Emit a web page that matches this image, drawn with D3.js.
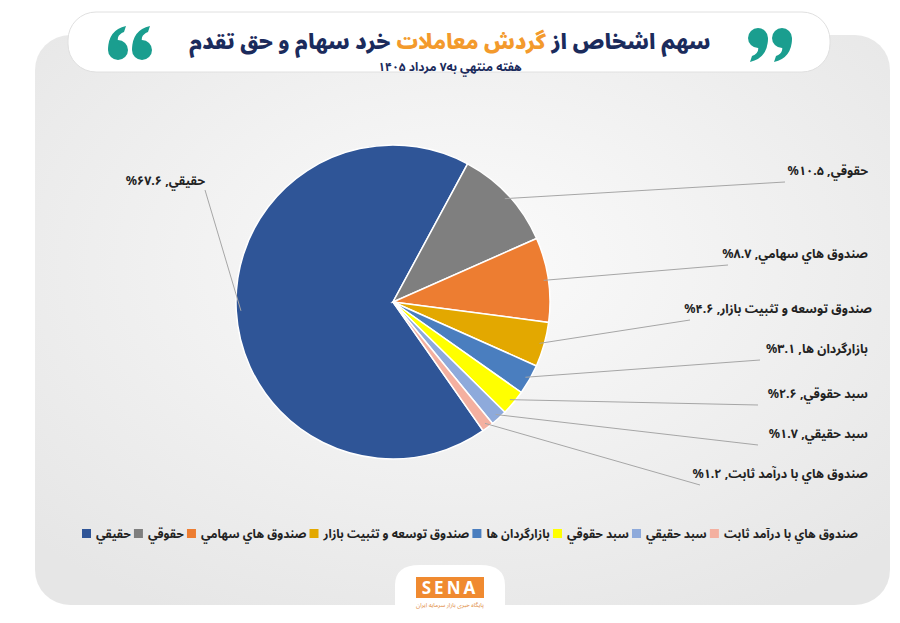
<!DOCTYPE html><html><head><meta charset="utf-8"><script src="https://cdn.jsdelivr.net/npm/d3@7"></script>
<style>body{margin:0;background:#fff}text{font-family:"Noto Sans","Noto Sans Arabic",sans-serif}</style></head><body>
<svg id="c" width="900" height="623"></svg>
<script>
const categories=["حقيقي","حقوقي","صندوق هاي سهامي","صندوق توسعه و تثبيت بازار","بازارگردان ها","سبد حقوقي","سبد حقيقي","صندوق هاي با درآمد ثابت"];
const values=[67.6,10.5,8.7,4.6,3.1,2.6,1.7,1.2];
const percentLabels=["۶۷.۶%","۱۰.۵%","۸.۷%","۴.۶%","۳.۱%","۲.۶%","۱.۷%","۱.۲%"];
const colors=["#2f5597","#7f7f7f","#ed7d31","#e3a800","#4a7ebf","#ffff00","#8eaadb","#f4b0a0"];
const title1="سهم اشخاص از ", title2="گردش معاملات", title3=" خرد سهام و حق تقدم";
const subtitle="هفته منتهي به۷ مرداد ۱۴۰۵";

const svg=d3.select("#c");
const defs=svg.append("defs");
const g1=defs.append("radialGradient").attr("id","bg").attr("cx","50%").attr("cy","40%").attr("r","70%");
g1.append("stop").attr("offset","0%").attr("stop-color","#fbfbfb");
g1.append("stop").attr("offset","100%").attr("stop-color","#e6e6e6");
svg.append("rect").attr("x",35).attr("y",35).attr("width",855).attr("height",570).attr("rx",35).attr("fill","url(#bg)");
svg.append("rect").attr("x",68).attr("y",12).attr("width",762).attr("height",60).attr("rx",28).attr("fill","#fff").attr("stroke","#e0e0e0");
const t=svg.append("text").attr("x",450).attr("y",49).attr("text-anchor","middle").attr("direction","rtl").attr("font-size",21).attr("font-weight",900).attr("fill","#1b2b5c");
t.append("tspan").text(title1);t.append("tspan").attr("fill","#f39a2c").text(title2);t.append("tspan").text(title3);
svg.append("text").attr("x",450).attr("y",71).attr("text-anchor","middle").attr("direction","rtl").attr("font-size",12).attr("font-weight",700).attr("fill","#1b2b5c").text(subtitle);
function quote(x,y,flip){
  const g=svg.append("g").attr("transform",`translate(${x},${y}) scale(${flip?-1:1},${flip?-1:1})`).attr("fill","#1a9e8f");
  [0,24].forEach(dx=>{
    g.append("circle").attr("cx",dx).attr("cy",8).attr("r",10);
    g.append("path").attr("d",`M${dx-10},8 Q${dx-10},-12 ${dx+8},-16 L${dx+6},-10 Q${dx-4},-6 ${dx+2},4 Z`);
  });
}
quote(118,42,false);
quote(782,46,true);

const cx=393,cy=302,R=157;
const start=145*Math.PI/180;
const pie=d3.pie().sort(null).value(d=>d).startAngle(start).endAngle(start+2*Math.PI);
const arcs=pie(values);
const arc=d3.arc().innerRadius(0).outerRadius(R);
const pg=svg.append("g").attr("transform",`translate(${cx},${cy})`);
pg.selectAll("path").data(arcs).join("path").attr("d",arc).attr("fill",(d,i)=>colors[i]).attr("stroke","#fff").attr("stroke-width",1.5);

const labelPos=[[205,185],[868,175],[868,258],[872,313],[868,353],[868,398],[868,438],[868,478]];
const lineEnd=[[205,190],[785,182],[728,265],[690,320],[760,360],[758,405],[758,445],[700,485]];
arcs.forEach((a,i)=>{
  const m=(a.startAngle+a.endAngle)/2;
  const px=cx+Math.sin(m)*R*0.97, py=cy-Math.cos(m)*R*0.97;
  const [lx,ly]=lineEnd[i];
  svg.append("line").attr("x1",px).attr("y1",py).attr("x2",lx).attr("y2",ly).attr("stroke","#a6a6a6").attr("stroke-width",1);
  const [tx,ty]=labelPos[i];
  svg.append("text").attr("x",tx).attr("y",ty).attr("text-anchor","start").attr("direction","rtl").attr("font-size",12.5).attr("font-weight",700).attr("fill","#222").text(categories[i]+", "+percentLabels[i]);
});

// legend: left to right starting with first category
const lg=svg.append("g");
const items=categories.map((c,i)=>{
  const tx=lg.append("text").attr("y",538).attr("text-anchor","end").attr("font-size",12).attr("font-weight",700).attr("fill","#222").attr("direction","rtl").text(c);
  return {tx,w:tx.node().getComputedTextLength(),i};
});
const total=items.reduce((s,d)=>s+d.w+14,0);
const gap=(858-82-total)/(items.length-1);
let x=82;
items.forEach(d=>{
  lg.append("rect").attr("x",x).attr("y",529).attr("width",9).attr("height",9).attr("fill",colors[d.i]);
  d.tx.attr("x",x+14).attr("text-anchor","end");
  x+=14+d.w+gap;
});

svg.append("path").attr("d","M395,605 L395,585 Q395,565 420,565 L480,565 Q505,565 505,585 L505,605 Z").attr("fill","#fff");
svg.append("rect").attr("x",416).attr("y",577).attr("width",68).attr("height",21).attr("fill","#f08a30");
svg.append("text").attr("x",450).attr("y",594).attr("text-anchor","middle").attr("font-size",17).attr("font-weight",700).attr("fill","#fff").attr("letter-spacing",3).text("SENA");
svg.append("text").attr("x",450).attr("y",607).attr("text-anchor","middle").attr("font-size",6).attr("fill","#e08a40").attr("direction","rtl").text("پایگاه خبری بازار سرمایه ایران");
</script></body></html>
